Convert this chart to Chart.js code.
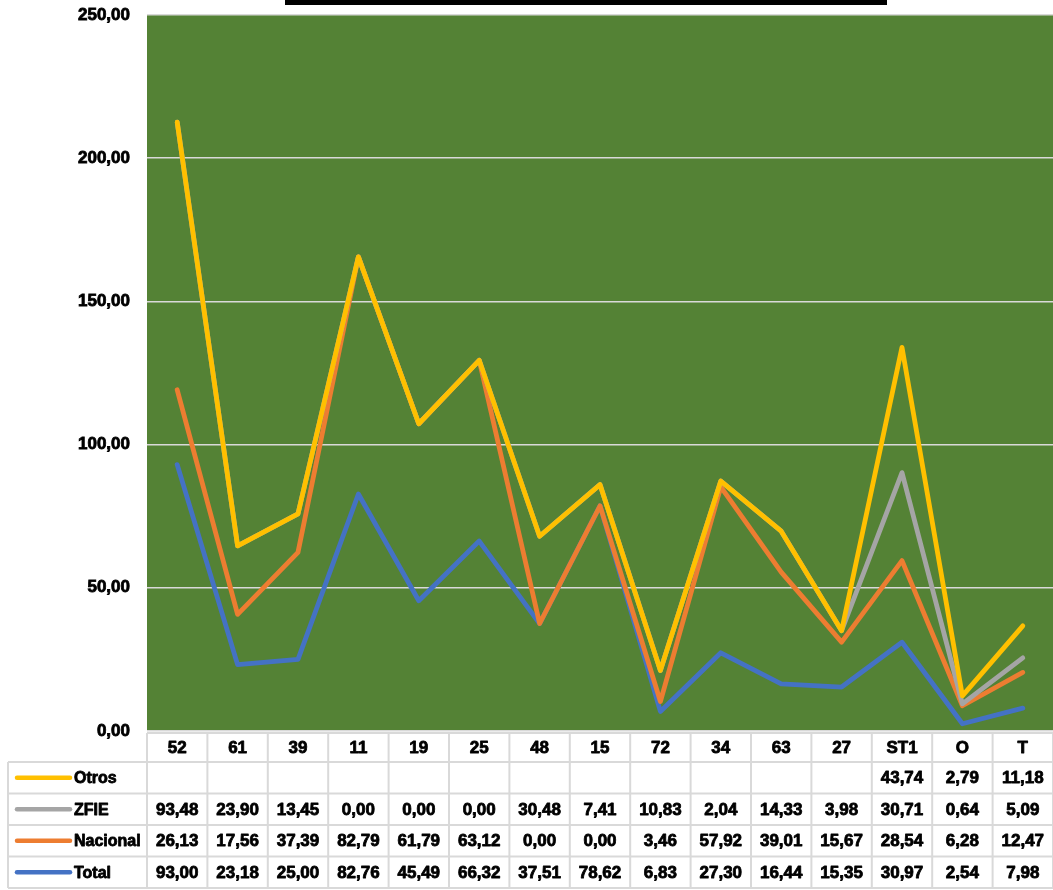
<!DOCTYPE html>
<html>
<head>
<meta charset="utf-8">
<script src="https://cdn.jsdelivr.net/npm/chart.js@4.4.1/dist/chart.umd.min.js"></script>
<style>
  html, body { margin: 0; padding: 0; background: #fff; }
  #wrap { width: 1053px; height: 890px; position: relative; }
</style>
</head>
<body>
<div id="wrap"><canvas id="myChart"></canvas></div>
<script>
var categorias = ['52', '61', '39', '11', '19', '25', '48', '15', '72', '34', '63', '27', 'ST1', 'O', 'T'];
var total    = [93.00, 23.18, 25.00, 82.76, 45.49, 66.32, 37.51, 78.62, 6.83, 27.30, 16.44, 15.35, 30.97, 2.54, 7.98];
var nacional = [26.13, 17.56, 37.39, 82.79, 61.79, 63.12, 0.00, 0.00, 3.46, 57.92, 39.01, 15.67, 28.54, 6.28, 12.47];
var zfie     = [93.48, 23.90, 13.45, 0.00, 0.00, 0.00, 30.48, 7.41, 10.83, 2.04, 14.33, 3.98, 30.71, 0.64, 5.09];
var otros    = [null, null, null, null, null, null, null, null, null, null, null, null, 43.74, 2.79, 11.18];
var yTicks   = [0, 50, 100, 150, 200, 250];

var FONT = "'Liberation Sans', Arial, sans-serif";
Chart.defaults.font.family = FONT;

function fmt(v) {
    return v.toFixed(2).replace('.', ',');
}

// filas de la tabla de datos (orden de arriba hacia abajo)
var filas = [
    { nombre: 'Otros', color: '#FFC000', valores: otros },
    { nombre: 'ZFIE', color: '#A5A5A5', valores: zfie },
    { nombre: 'Nacional', color: '#ED7D31', valores: nacional },
    { nombre: 'Total', color: '#4472C4', valores: total }
];

// fondo verde del área de trazado + barra negra de arriba
var fondoPlugin = {
    id: 'fondo',
    beforeDraw: function(chart) {
        var ctx = chart.ctx, a = chart.chartArea;
        ctx.save();
        ctx.fillStyle = '#548235';
        ctx.fillRect(a.left, a.top, a.right - a.left, a.bottom - a.top);
        ctx.fillStyle = '#000';
        ctx.fillRect(285, 0, 602, 5);
        ctx.restore();
    }
};

// dibujar las series en orden Total -> Otros (Otros encima)
var ordenPlugin = {
    id: 'orden',
    beforeDatasetDraw: function() {
        return false;
    },
    afterDatasetsDraw: function(chart) {
        var ctx = chart.ctx, a = chart.chartArea;
        ctx.save();
        ctx.beginPath();
        ctx.rect(a.left, a.top - 5, a.right - a.left, a.bottom - a.top + 10);
        ctx.clip();
        for (var i = 0; i < chart.data.datasets.length; i++) {
            chart.getDatasetMeta(i).controller.draw();
        }
        ctx.restore();
    }
};

// texto en negrita con un trazo fino para que se vea más grueso
function texto(ctx, s, x, y) {
    ctx.strokeText(s, x, y);
    ctx.fillText(s, x, y);
}

// tabla de datos debajo del gráfico
var tablaPlugin = {
    id: 'tabla',
    afterDraw: function(chart) {
        var ctx = chart.ctx, a = chart.chartArea;
        var x = chart.scales.x;
        var n = categorias.length;
        var colW = (a.right - a.left) / n;
        var headTop = a.bottom + 2, headH = 29, rowH = 31.5;
        var bodyTop = headTop + headH;
        var bottom = bodyTop + rowH * filas.length;
        var legLeft = 8;

        ctx.save();
        ctx.strokeStyle = '#D9D9D9';
        ctx.lineWidth = 2;
        ctx.beginPath();
        // líneas horizontales
        ctx.moveTo(a.left, headTop); ctx.lineTo(a.right, headTop);
        for (var r = 0; r <= filas.length; r++) {
            var yy = bodyTop + r * rowH;
            ctx.moveTo(legLeft, yy); ctx.lineTo(a.right, yy);
        }
        // líneas verticales
        ctx.moveTo(legLeft, bodyTop); ctx.lineTo(legLeft, bottom);
        for (var c = 0; c <= n; c++) {
            var xx = a.left + c * colW;
            ctx.moveTo(xx, headTop); ctx.lineTo(xx, bottom);
        }
        ctx.stroke();

        ctx.fillStyle = '#000';
        ctx.textAlign = 'center';
        ctx.textBaseline = 'middle';
        ctx.font = 'bold 17px ' + FONT;
        ctx.strokeStyle = '#000';
        ctx.lineWidth = 0.8;
        ctx.lineJoin = 'round';
        categorias.forEach(function(cat, i) {
            texto(ctx, cat, x.getPixelForValue(i), headTop + headH / 2 + 1);
        });

        filas.forEach(function(f, r) {
            var cy = bodyTop + r * rowH + rowH / 2 + 1;
            // clave de leyenda
            ctx.save();
            ctx.strokeStyle = f.color;
            ctx.lineWidth = 4.5;
            ctx.lineCap = 'round';
            ctx.beginPath();
            ctx.moveTo(17, cy - 1); ctx.lineTo(70, cy - 1);
            ctx.stroke();
            ctx.restore();
            ctx.textAlign = 'left';
            ctx.font = 'bold 16px ' + FONT;
            texto(ctx, f.nombre, 74, cy);
            ctx.textAlign = 'center';
            ctx.font = 'bold 17px ' + FONT;
            f.valores.forEach(function(v, i) {
                if (v === null) return;
                texto(ctx, fmt(v), x.getPixelForValue(i), cy);
            });
        });
        ctx.restore();
    }
};

function serie(label, data, color) {
    return {
        label: label,
        data: data.map(function(v) { return v === null ? 0 : v; }),
        borderColor: color,
        backgroundColor: color,
        borderWidth: 4.8,
        pointRadius: 0,
        tension: 0,
        fill: false,
        borderCapStyle: 'round',
        borderJoinStyle: 'round'
    };
}

var ctx = document.getElementById('myChart').getContext('2d');
var myChart = new Chart(ctx, {
    type: 'line',
    data: {
        labels: categorias,
        datasets: [
            serie('Total', total, '#4472C4'),
            serie('Nacional', nacional, '#ED7D31'),
            serie('ZFIE', zfie, '#A5A5A5'),
            serie('Otros', otros, '#FFC000')
        ]
    },
    plugins: [fondoPlugin, ordenPlugin, tablaPlugin],
    options: {
        responsive: true,
        maintainAspectRatio: false,
        animation: false,
        layout: { padding: { top: 15, right: 0, bottom: 159, left: 0 } },
        plugins: {
            legend: { display: false },
            tooltip: { enabled: false },
            title: { display: false }
        },
        scales: {
            x: {
                type: 'category',
                display: false,
                offset: true
            },
            y: {
                stacked: true,
                min: 0,
                max: 250,
                afterFit: function(scale) {
                    scale.width = 147;
                    scale.paddingTop = 0;
                    scale.paddingBottom = 0;
                },
                afterBuildTicks: function(scale) {
                    scale.ticks = yTicks.map(function(v) { return { value: v }; });
                },
                border: { display: false },
                grid: { color: '#D9D9D9', lineWidth: 1.5, drawTicks: false },
                ticks: {
                    padding: 17,
                    color: '#000',
                    textStrokeColor: '#000',
                    textStrokeWidth: 0.8,
                    font: { size: 17, weight: 'bold' },
                    callback: function(v) { return fmt(v); }
                }
            }
        }
    }
});
</script>
</body>
</html>
